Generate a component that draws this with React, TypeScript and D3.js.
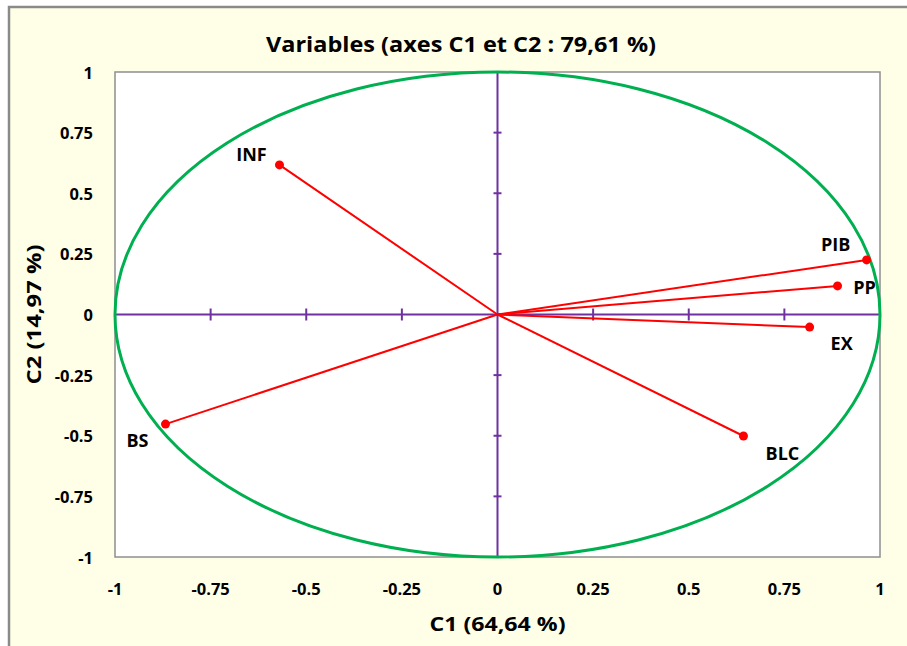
import React from "react";
import * as d3 from "d3";

const variables = ["INF", "BS", "PIB", "PP", "EX", "BLC"];
const c1Values = [-0.57, -0.868, 0.965, 0.889, 0.816, 0.643];
const c2Values = [0.617, -0.452, 0.225, 0.118, -0.052, -0.501];
const tickValues = [-1, -0.75, -0.5, -0.25, 0, 0.25, 0.5, 0.75, 1];
const innerTicks = [-0.75, -0.5, -0.25, 0.25, 0.5, 0.75];
const title = "Variables (axes C1 et C2 : 79,61 %)";
const xTitle = "C1 (64,64 %)";
const yTitle = "C2 (14,97 %)";

// label placement relative to point (px)
const labelOffsets: Record<string, [number, number]> = {
  INF: [-28, -11],
  BS: [-28, 16],
  PIB: [-31, -16],
  PP: [27, 1],
  EX: [32, 16],
  BLC: [39, 17],
};

const W = 907;
const H = 646;
const plot = { left: 115, right: 880, top: 72, bottom: 557 };
const FONT = "'Open Sans', Lato, sans-serif";

export default function App() {
  const x = d3.scaleLinear().domain([-1, 1]).range([plot.left, plot.right]);
  const y = d3.scaleLinear().domain([-1, 1]).range([plot.bottom, plot.top]);
  const fmt = (v: number) => String(v);
  const cx = x(0);
  const cy = y(0);

  return (
    <svg
      width={W}
      height={H}
      style={{ position: "absolute", left: 0, top: 0, display: "block" }}
      fontFamily={FONT}
    >
      <rect x={0} y={0} width={W} height={H} fill="#ffffff" />
      <rect x={9} y={7} width={930} height={680} fill="#FFFFE8" stroke="#8a8a8a" strokeWidth={2.5} />
      <rect
        x={plot.left}
        y={plot.top}
        width={plot.right - plot.left}
        height={plot.bottom - plot.top}
        fill="#ffffff"
        stroke="#8f8f8f"
        strokeWidth={1.5}
      />
      <text x={461} y={52} textAnchor="middle" fontSize={21.5} fontWeight="bold" fill="#000" textLength={390} lengthAdjust="spacingAndGlyphs">
        {title}
      </text>

      {/* axes through origin */}
      <line x1={plot.left} x2={plot.right} y1={cy} y2={cy} stroke="#7030A0" strokeWidth={2} />
      <line x1={cx} x2={cx} y1={plot.top} y2={plot.bottom} stroke="#7030A0" strokeWidth={2} />
      {innerTicks.map((t) => (
        <line key={"xt" + t} x1={x(t)} x2={x(t)} y1={cy - 6} y2={cy + 6} stroke="#7030A0" strokeWidth={2} />
      ))}
      {innerTicks.map((t) => (
        <line key={"yt" + t} x1={cx - 4} x2={cx + 4} y1={y(t)} y2={y(t)} stroke="#7030A0" strokeWidth={2} />
      ))}

      {/* correlation circle */}
      <ellipse cx={cx} cy={cy} rx={x(1) - cx} ry={cy - y(1)} fill="none" stroke="#00B050" strokeWidth={3} />

      {/* vectors */}
      {variables.map((v, i) => (
        <g key={v}>
          <line x1={cx} y1={cy} x2={x(c1Values[i])} y2={y(c2Values[i])} stroke="#FF0000" strokeWidth={2} />
          <circle cx={x(c1Values[i])} cy={y(c2Values[i])} r={4.5} fill="#FF0000" />
          <text
            x={x(c1Values[i]) + labelOffsets[v][0]}
            y={y(c2Values[i]) + labelOffsets[v][1]}
            textAnchor="middle"
            dominantBaseline="central"
            fontSize={18}
            fontWeight="bold"
            fill="#000"
          >
            {v}
          </text>
        </g>
      ))}

      {/* tick labels */}
      {tickValues.map((t) => (
        <text key={"yl" + t} x={93} y={y(t)} textAnchor="end" dominantBaseline="central" fontSize={16.5} fontWeight="bold" fill="#000">
          {fmt(t)}
        </text>
      ))}
      {tickValues.map((t) => (
        <text key={"xl" + t} x={x(t)} y={588} textAnchor="middle" dominantBaseline="central" fontSize={16.5} fontWeight="bold" fill="#000">
          {fmt(t)}
        </text>
      ))}

      <text x={x(0)} y={623} textAnchor="middle" dominantBaseline="central" fontSize={19.5} fontWeight="bold" fill="#000" textLength={136} lengthAdjust="spacingAndGlyphs">
        {xTitle}
      </text>
      <text
        transform={`translate(33,${cy}) rotate(-90)`}
        textAnchor="middle"
        dominantBaseline="central"
        fontSize={19.5}
        fontWeight="bold"
        fill="#000"
        textLength={140}
        lengthAdjust="spacingAndGlyphs"
      >
        {yTitle}
      </text>
    </svg>
  );
}
